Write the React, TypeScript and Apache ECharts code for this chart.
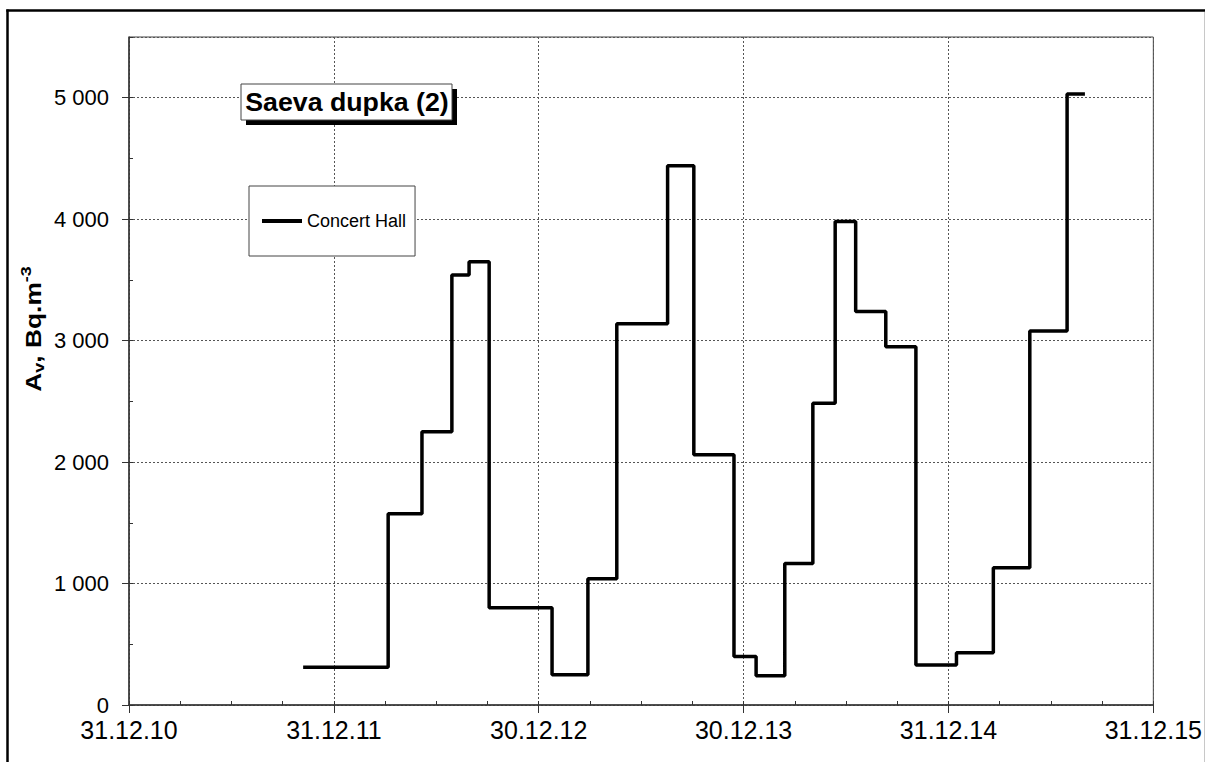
import React, { useEffect, useRef } from "react";
import * as echarts from "echarts";

// Start of each measurement period, in years after 31.12.2010.
// The last entry closes the final period.
const periodStart = [
  0.85, 1.265, 1.43, 1.576, 1.66, 1.758, 2.065, 2.24, 2.381, 2.629, 2.757, 2.953,
  3.061, 3.201, 3.338, 3.447, 3.547, 3.694, 3.841, 4.039, 4.219, 4.397, 4.579, 4.666,
];

// Radon activity concentration in the Concert Hall, Bq/m³.
const concertHall = [
  310, 1575, 2250, 3540, 3650, 800, 250, 1040, 3140, 4440, 2060, 400,
  240, 1165, 2485, 3980, 3240, 2950, 330, 430, 1130, 3080, 5030, 5030,
];

const xTickLabels = ["31.12.10", "31.12.11", "30.12.12", "30.12.13", "31.12.14", "31.12.15"];

const seriesName = "Concert Hall";
const chartTitle = "Saeva dupka (2)";

const FONT = '"Liberation Sans", Arial, Helvetica, sans-serif';

const groupThousands = (v: number) =>
  String(v).replace(/\B(?=(\d{3})+(?!\d))/g, " ");

export default function App() {
  const ref = useRef<HTMLDivElement>(null);

  useEffect(() => {
    document.body.style.margin = "0";
    if (!ref.current) return;
    const chart = echarts.init(ref.current, undefined, { renderer: "svg" });

    const gridColor = "#555";
    const axisColor = "#333";

    chart.setOption({
      animation: false,
      backgroundColor: "#ffffff",
      textStyle: { fontFamily: FONT },
      grid: {
        left: 129,
        top: 37,
        right: 47,
        bottom: 57,
        show: true,
        borderColor: "#444",
        borderWidth: 1,
        backgroundColor: "transparent",
      },
      legend: {
        show: true,
        left: 249,
        top: 186,
        orient: "vertical",
        padding: [26, 9, 26, 13],
        itemWidth: 40,
        itemHeight: 4,
        icon: "rect",
        itemStyle: { color: "#000" },
        borderColor: "#444",
        borderWidth: 1,
        backgroundColor: "#fff",
        textStyle: { fontSize: 18, color: "#000", fontFamily: FONT },
        data: [seriesName],
        z: 20,
      },
      xAxis: [
        {
          type: "value",
          min: 0,
          max: 5,
          interval: 1,
          position: "bottom",
          axisLine: { show: true, onZero: false, lineStyle: { color: axisColor, width: 1.5 } },
          axisTick: { show: true, inside: false, length: 8, lineStyle: { color: axisColor } },
          axisLabel: {
            margin: 12,
            fontSize: 25,
            color: "#000",
            fontFamily: FONT,
            formatter: (v: number) => xTickLabels[Math.round(v)] ?? "",
          },
          splitLine: { show: true, lineStyle: { color: gridColor, type: [2, 2], width: 1 } },
        },
        {
          type: "value",
          min: 0,
          max: 5,
          interval: 0.25,
          position: "bottom",
          offset: 0,
          axisLine: { show: false },
          axisTick: { show: true, inside: true, length: 4, lineStyle: { color: axisColor } },
          axisLabel: { show: false },
          splitLine: { show: false },
        },
      ],
      yAxis: [
        {
          type: "value",
          min: 0,
          max: 5500,
          interval: 1000,
          position: "left",
          axisLine: { show: true, onZero: false, lineStyle: { color: axisColor, width: 1.5 } },
          axisTick: { show: true, inside: false, length: 7, lineStyle: { color: axisColor } },
          axisLabel: {
            margin: 20,
            fontSize: 22,
            color: "#000",
            fontFamily: FONT,
            showMaxLabel: false,
            formatter: (v: number) => (v > 5000 ? "" : groupThousands(v)),
          },
          splitLine: { show: true, lineStyle: { color: gridColor, type: [2, 2], width: 1 } },
        },
        {
          type: "value",
          min: 0,
          max: 5500,
          interval: 500,
          position: "left",
          offset: 0,
          axisLine: { show: false },
          axisTick: { show: true, inside: true, length: 4, lineStyle: { color: axisColor } },
          axisLabel: { show: false },
          splitLine: { show: false },
        },
      ],
      series: [
        {
          name: seriesName,
          type: "line",
          step: "end",
          xAxisIndex: 0,
          yAxisIndex: 0,
          data: periodStart.map((x, i) => [x, concertHall[i]]),
          symbol: "none",
          showSymbol: false,
          lineStyle: { color: "#000", width: 3.5 },
          itemStyle: { color: "#000" },
          z: 5,
        },
      ],
      graphic: [
        // outer frame
        { type: "line", z: 50, shape: { x1: 7.5, y1: 9.5, x2: 7.5, y2: 762 }, style: { stroke: "#000", lineWidth: 2.5 } },
        { type: "line", z: 50, shape: { x1: 6.3, y1: 10.5, x2: 1205, y2: 10.5 }, style: { stroke: "#000", lineWidth: 2.5 } },
        { type: "line", z: 50, shape: { x1: 1204.5, y1: 12, x2: 1204.5, y2: 762 }, style: { stroke: "#c8c8c8", lineWidth: 1 } },
        // title box with drop shadow
        { type: "rect", z: 60, shape: { x: 246, y: 89, width: 211, height: 36 }, style: { fill: "#000" } },
        { type: "rect", z: 61, shape: { x: 241, y: 84, width: 211, height: 36 }, style: { fill: "#fff", stroke: "#444", lineWidth: 1 } },
        {
          type: "text",
          z: 62,
          x: 347,
          y: 102.5,
          scaleX: 1.07,
          style: {
            text: chartTitle,
            fontFamily: FONT,
            fontSize: 25,
            fontWeight: "bold",
            fill: "#000",
            align: "center",
            verticalAlign: "middle",
          },
        },
        // y-axis name: A_v, Bq.m^-3
        {
          type: "text",
          z: 62,
          x: 33,
          y: 329,
          rotation: Math.PI / 2,
          scaleX: 1.2,
          style: {
            text: "{b|A}{s|v}{b|, Bq.m}{p|-3}",
            align: "center",
            verticalAlign: "middle",
            fill: "#000",
            rich: {
              b: { fontFamily: FONT, fontSize: 22, fontWeight: "bold", lineHeight: 28, verticalAlign: "middle", fill: "#000" },
              s: { fontFamily: FONT, fontSize: 15, fontWeight: "bold", lineHeight: 28, verticalAlign: "bottom", fill: "#000" },
              p: { fontFamily: FONT, fontSize: 15, fontWeight: "bold", lineHeight: 28, verticalAlign: "top", fill: "#000" },
            },
          },
        },
      ],
    });

    return () => chart.dispose();
  }, []);

  return <div ref={ref} style={{ width: 1205, height: 762 }} />;
}
